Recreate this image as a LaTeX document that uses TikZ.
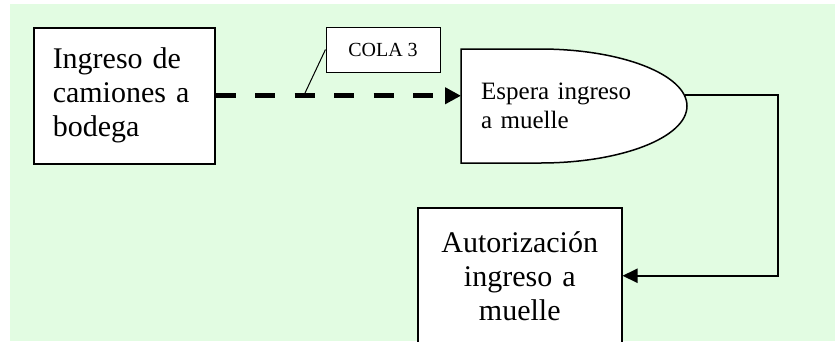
\documentclass[tikz,border=0pt]{standalone}
\usepackage{fontspec}
\setmainfont{Liberation Serif}
\usetikzlibrary{arrows.meta}
\definecolor{fondo}{RGB}{226,252,226}

\begin{document}
\begin{tikzpicture}[x=1pt,y=-1pt,>={Triangle[length=15pt,width=14pt]},
            proceso node/.style={rectangle,draw,fill=white,line width=1.5pt,inner ysep=0pt,minimum height=136pt,font=\fontsize{30}{34}\selectfont},
            cola node/.style={rectangle,draw,fill=white,line width=1pt,minimum width=114pt,minimum height=45pt,font=\fontsize{20}{24}\selectfont}]
            \useasboundingbox (0,0) rectangle (835,341);
            \fill[fondo] (10,4) rectangle (835,341);

            \node[proceso node,anchor=north west,text width=143pt,inner xsep=19pt,align=left] (ingreso) at (33,27) {Ingreso de\\camiones a\\bodega};
            \node[proceso node,anchor=north west,text width=166pt,inner xsep=19pt,align=center] (autoriza) at (417,207) {Autorización\\ingreso a\\muelle};
            \node[cola node] (cola) at (383,49.5) {COLA 3};

            \draw[line width=1.5pt,fill=white] (461,49) -- (540,49) arc[start angle=-90,end angle=90,x radius=147,y radius=57] -- (461,163) -- cycle;
            \node[anchor=north west,text width=186pt,inner xsep=20pt,inner ysep=0pt,minimum height=114pt,align=left,font=\fontsize{25}{29}\selectfont] (espera) at (461,49) {Espera ingreso\\a muelle};

            \coordinate (salida) at (685,95);
            \coordinate (marca) at (305,93);

            \draw[line width=1pt] (cola.west) -- (marca);
            \draw[line width=5pt,dash pattern=on 20pt off 19.5pt,-{Triangle[length=16pt,width=16pt]}] (ingreso.east) -- (ingreso.east -| espera.west);
            \draw[line width=2pt,->] (salida) -- ++(93,0) |- (autoriza.east);
\end{tikzpicture}
\end{document}
